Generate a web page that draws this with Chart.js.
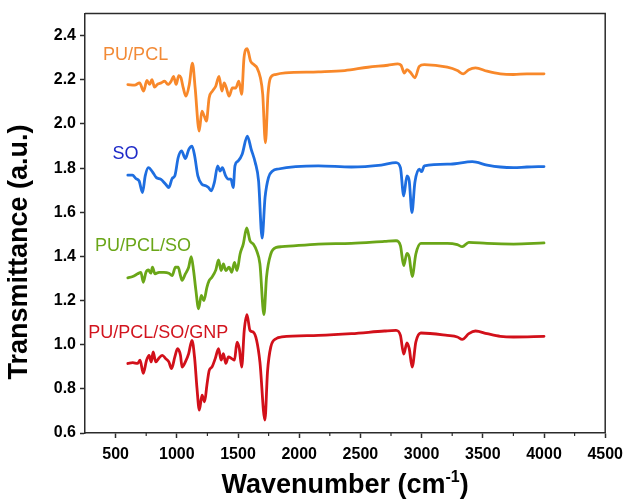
<!DOCTYPE html>
<html>
<head>
<meta charset="utf-8">
<script src="https://cdn.jsdelivr.net/npm/chart.js@4.4.0/dist/chart.umd.min.js"></script>
<style>
    html, body { margin: 0; padding: 0; background: #fff; }
    #wrap { width: 630px; height: 501px; }
</style>
</head>
<body>
<div id="wrap"><canvas id="myChart" width="630" height="501"></canvas></div>
<script>
// Spectra (wavenumber in cm-1, transmittance in a.u.)
const seriesNames = ['PU/PCL', 'SO', 'PU/PCL/SO', 'PU/PCL/SO/GNP'];

const puPclWn = [600,656,696,729,756,778,797,818,845,872,900,927,954,973,995,1016,1034,1053,1075,1102,
    1128,1150,1183,1205,1224,1242,1264,1291,1318,1345,1368,1387,1405,1427,1454,1481,1507,1530,1549,1575,
    1603,1629,1656,1683,1702,1724,1745,1765,1805,1886,2156,2372,2562,2724,2805,2832,2859,2881,2913,2945,
    2981,3022,3210,3292,3340,3386,3440,3535,3643,3751,3860,4000];
const puPclT = [2.178,2.176,2.186,2.149,2.197,2.179,2.201,2.167,2.181,2.186,2.194,2.179,2.194,2.216,2.179,2.219,2.209,2.163,2.126,2.179,
    2.276,2.163,1.968,2.058,2.036,2.013,2.118,2.149,2.171,2.216,2.149,2.186,2.163,2.126,2.163,2.163,2.194,2.134,2.299,2.341,
    2.284,2.269,2.254,2.209,2.134,1.915,2.134,2.209,2.224,2.231,2.236,2.242,2.257,2.266,2.272,2.266,2.231,2.246,2.231,2.209,
    2.261,2.269,2.257,2.242,2.227,2.246,2.254,2.239,2.227,2.224,2.227,2.227];

const soWn = [600,638,665,692,720,742,768,801,833,868,909,935,962,984,1011,1039,1070,1098,1124,1146,
    1172,1205,1237,1259,1281,1307,1334,1354,1372,1399,1421,1442,1461,1475,1501,1534,1576,1608,1641,1668,
    1697,1721,1749,1783,1830,2156,2427,2670,2791,2827,2854,2880,2899,2921,2945,2981,3000,3022,3237,3414,
    3535,3643,3751,3860,4000];
const soT = [1.768,1.768,1.753,1.742,1.689,1.765,1.802,1.783,1.757,1.750,1.727,1.712,1.753,1.765,1.847,1.878,1.843,1.885,1.900,1.855,
    1.765,1.727,1.720,1.712,1.697,1.735,1.810,1.787,1.802,1.765,1.750,1.750,1.712,1.810,1.832,1.863,1.945,1.885,1.825,1.742,
    1.483,1.667,1.757,1.787,1.796,1.810,1.805,1.814,1.825,1.802,1.674,1.765,1.742,1.599,1.735,1.795,1.784,1.810,1.818,1.829,
    1.814,1.805,1.802,1.805,1.807];

const pclSoWn = [600,640,680,707,726,748,768,788,801,822,855,895,935,962,989,1011,1030,1043,1070,1097,
    1118,1137,1156,1178,1200,1221,1246,1265,1287,1319,1341,1362,1381,1400,1427,1449,1471,1492,1517,1543,
    1571,1598,1625,1652,1679,1712,1733,1768,1814,1858,2156,2427,2697,2791,2827,2854,2880,2899,2923,2953,
    2994,3210,3292,3332,3386,3535,3751,4000];
const pclSoT = [1.303,1.309,1.321,1.328,1.283,1.328,1.339,1.324,1.351,1.321,1.328,1.328,1.324,1.313,1.351,1.351,1.313,1.291,1.321,1.351,
    1.399,1.336,1.246,1.163,1.223,1.200,1.260,1.291,1.306,1.339,1.384,1.336,1.366,1.336,1.351,1.328,1.373,1.336,1.411,1.456,
    1.529,1.471,1.456,1.426,1.366,1.136,1.306,1.411,1.441,1.444,1.456,1.459,1.468,1.471,1.449,1.358,1.414,1.396,1.309,1.411,
    1.459,1.459,1.453,1.444,1.464,1.459,1.456,1.461];

const gnpWn = [600,640,680,700,726,753,774,791,807,828,855,882,909,935,957,984,1006,1030,1043,1070,
    1097,1124,1146,1165,1184,1206,1227,1246,1265,1287,1314,1341,1362,1381,1400,1422,1449,1471,1492,1511,
    1530,1551,1573,1598,1625,1652,1679,1720,1741,1768,1814,1858,2156,2427,2697,2791,2827,2854,2880,2899,
    2923,2953,2994,3210,3292,3332,3386,3440,3535,3643,3751,4000];
const gnpT = [0.915,0.919,0.915,0.930,0.870,0.930,0.952,0.922,0.967,0.922,0.940,0.952,0.937,0.922,0.892,0.945,0.982,0.952,0.899,0.922,
    0.960,1.020,0.937,0.802,0.704,0.772,0.741,0.817,0.884,0.899,0.937,0.982,0.930,0.960,0.915,0.945,0.937,0.930,1.012,0.982,
    0.899,1.065,1.136,1.065,1.057,1.020,0.922,0.659,0.877,0.990,1.028,1.035,1.042,1.050,1.062,1.065,1.042,0.957,1.008,0.982,
    0.899,1.012,1.053,1.042,1.035,1.024,1.050,1.062,1.050,1.038,1.035,1.038];

const xTicks = [500, 1000, 1500, 2000, 2500, 3000, 3500, 4000, 4500];
const xMinorTicks = [750, 1250, 1750, 2250, 2750, 3250, 3750, 4250];
const yTicks = [0.6, 0.8, 1.0, 1.2, 1.4, 1.6, 1.8, 2.0, 2.2, 2.4];

const FONT = "'Liberation Sans', Arial, sans-serif";
const lineColors = ['#F8882A', '#1E6EE0', '#6AA618', '#D2101A'];
const labelColors = ['#F28A36', '#1E2AC8', '#6AA618', '#D2141E'];
// where each curve's name sits (wavenumber, transmittance of the baseline)
const labelAnchors = [[398, 2.292], [475, 1.840], [331, 1.426], [277, 1.032]];

const toPoints = (xs, ys) => xs.map((x, i) => ({ x: x, y: ys[i] }));
const allSeries = [
    toPoints(puPclWn, puPclT),
    toPoints(soWn, soT),
    toPoints(pclSoWn, pclSoT),
    toPoints(gnpWn, gnpT)
];

// frame, minor ticks, axis titles and curve names
const decorations = {
    id: 'decorations',
    afterDraw(chart) {
        const { ctx, chartArea: a, scales: { x, y } } = chart;
        ctx.save();
        ctx.strokeStyle = '#2b2b2b';
        ctx.lineWidth = 1.5;
        ctx.beginPath();
        ctx.moveTo(a.left, a.top);
        ctx.lineTo(a.right, a.top);
        ctx.lineTo(a.right, a.bottom);
        ctx.stroke();

        // minor ticks on the x axis
        ctx.lineWidth = 1.2;
        xMinorTicks.forEach(v => {
            const px = x.getPixelForValue(v);
            ctx.beginPath();
            ctx.moveTo(px, a.bottom);
            ctx.lineTo(px, a.bottom + 3);
            ctx.stroke();
        });

        // curve names
        ctx.font = '18px ' + FONT;
        ctx.textBaseline = 'alphabetic';
        ctx.textAlign = 'left';
        seriesNames.forEach((name, i) => {
            ctx.fillStyle = labelColors[i];
            ctx.fillText(name, x.getPixelForValue(labelAnchors[i][0]), y.getPixelForValue(labelAnchors[i][1]));
        });

        // x title with superscript
        ctx.fillStyle = '#000';
        const big = 'bold 27px ' + FONT, small = 'bold 16px ' + FONT;
        const t1 = 'Wavenumber (cm', t2 = '-1', t3 = ')';
        ctx.font = big;
        const w1 = ctx.measureText(t1).width, w3 = ctx.measureText(t3).width;
        ctx.font = small;
        const w2 = ctx.measureText(t2).width;
        let sx = (a.left + a.right) / 2 - (w1 + w2 + w3) / 2;
        const base = 493;
        ctx.font = big;
        ctx.fillText(t1, sx, base);
        ctx.font = small;
        ctx.fillText(t2, sx + w1, base - 11);
        ctx.font = big;
        ctx.fillText(t3, sx + w1 + w2, base);

        // y title
        ctx.translate(20, 252);
        ctx.rotate(-Math.PI / 2);
        ctx.textAlign = 'center';
        ctx.textBaseline = 'middle';
        ctx.font = big;
        ctx.fillText('Transmittance (a.u.)', 0, 0);
        ctx.restore();
    }
};

const ctx = document.getElementById('myChart');
new Chart(ctx, {
    type: 'scatter',
    data: {
        datasets: allSeries.map((pts, i) => ({
            label: seriesNames[i],
            data: pts,
            showLine: true,
            borderColor: lineColors[i],
            borderWidth: 2.8,
            pointRadius: 0,
            cubicInterpolationMode: 'monotone',
            borderCapStyle: 'round',
            borderJoinStyle: 'round'
        }))
    },
    options: {
        responsive: false,
        animation: false,
        devicePixelRatio: 1,
        layout: { padding: { top: 12, right: 21, left: 0, bottom: 0 } },
        plugins: { legend: { display: false }, tooltip: { enabled: false } },
        scales: {
            x: {
                type: 'linear',
                min: 250,
                max: 4500,
                afterBuildTicks: s => { s.ticks = xTicks.map(v => ({ value: v })); },
                afterFit: s => { s.height = 68; },
                ticks: {
                    color: '#000', padding: 7, maxRotation: 0,
                    font: { family: FONT, size: 16, weight: 'bold' },
                    callback: v => String(v)
                },
                grid: { drawOnChartArea: false, drawTicks: true, tickLength: 5, tickColor: '#2b2b2b', tickWidth: 1.5 },
                border: { color: '#2b2b2b', width: 1.5 }
            },
            y: {
                min: 0.6,
                max: 2.5,
                afterBuildTicks: s => { s.ticks = yTicks.map(v => ({ value: v })); },
                afterFit: s => { s.width = 85; },
                ticks: {
                    color: '#000', padding: 4,
                    font: { family: FONT, size: 16, weight: 'bold' },
                    callback: v => v.toFixed(1)
                },
                grid: { drawOnChartArea: false, drawTicks: true, tickLength: 5, tickColor: '#2b2b2b', tickWidth: 1.5 },
                border: { color: '#2b2b2b', width: 1.5 }
            }
        }
    },
    plugins: [decorations]
});
</script>
</body>
</html>
